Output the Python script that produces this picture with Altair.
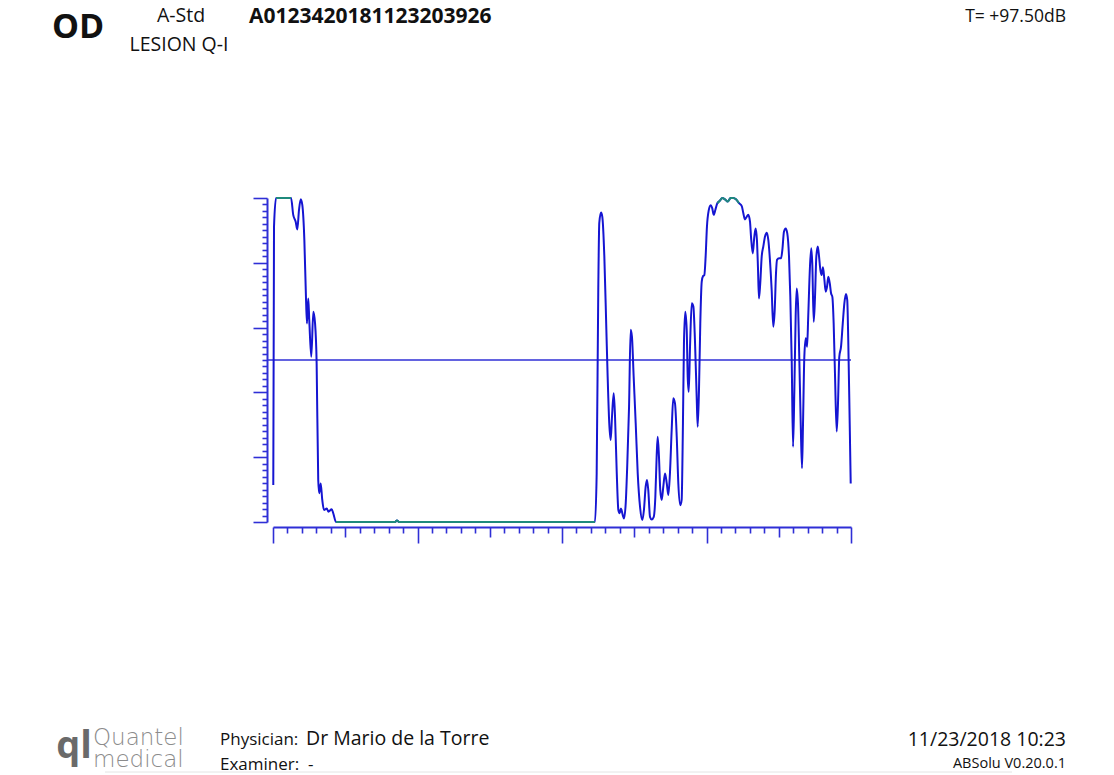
import altair as alt
import pandas as pd

# ---------------- data (A-scan echo amplitude vs depth) ----------------
depth_left = [0.02, 0.07, 0.21, 1.25, 1.40, 1.57, 1.68, 1.80, 1.92, 2.03, 2.17, 2.28, 2.35, 2.44,
              2.51, 2.65, 2.79, 2.91, 3.02, 3.13, 3.20, 3.30, 3.41, 3.53, 3.72, 3.83, 4.06, 4.17, 4.36]
amp_left = [11.4, 91.1, 100, 100, 94.8, 92.7, 90.3, 96.3, 99.6, 97.8, 87.0, 69.5, 61.3, 69.0,
            62.3, 51.0, 64.9, 61.3, 49.0, 13.0, 8.9, 11.9, 6.8, 3.7, 4.2, 3.2, 3.9, 2.7, 0]

depth_flat = [8.45, 8.58, 8.72, 22.28]
amp_flat = [0, 0.5, 0, 0]

depth_mid = [22.40, 22.51, 22.58, 22.70, 22.79, 22.93, 23.07, 23.16, 23.27, 23.37,
             23.46, 23.58, 23.67, 23.79, 23.90, 23.99, 24.08, 24.20, 24.29, 24.41,
             24.52, 24.64, 24.75, 24.84, 24.96, 25.10, 25.24, 25.40, 25.56, 25.67,
             25.79, 25.88, 25.97, 26.09, 26.21, 26.35, 26.46, 26.55, 26.62, 26.71,
             26.80, 26.90, 27.01, 27.13, 27.25, 27.36, 27.47, 27.59, 27.70, 27.82,
             27.94, 28.05, 28.19, 28.28, 28.37, 28.44, 28.53, 28.63, 28.70, 28.77,
             28.86, 28.98, 29.09, 29.20, 29.32, 29.39, 29.48, 29.57, 29.67, 29.76,
             29.85, 29.94, 30.03, 30.15, 30.29, 30.40, 30.50, 30.61, 30.75, 30.93]
amp_mid = [15.1, 71.6, 92.3, 95.5, 94.2, 81.9, 59.3, 44.8, 30.5, 25.3,
           32.5, 39.7, 32.5, 15.0, 3.7, 2.7, 4.2, 2.2, 1.1, 5.8,
           18.1, 35.6, 59.3, 57.2, 44.8, 30.5, 15.0, 4.7, 0.6, 3.7,
           10.9, 13.0, 9.9, 1.6, 0.8, 1.6, 7.8, 20.2, 26.3, 20.2,
           9.9, 6.8, 10.9, 15.0, 11.9, 8.3, 15.0, 28.4, 38.2, 36.6,
           26.3, 11.9, 5.2, 6.8, 30.5, 55.2, 64.9, 59.3, 44.8, 40.2,
           54.1, 67.5, 66.5, 56.2, 38.7, 29.4, 40.7, 61.3, 74.2, 75.9,
           76.2, 81.9, 91.1, 96.1, 97.8, 96.8, 94.8, 96.3, 98.4, 99.2]

depth_right = [31.09, 31.28, 31.47, 31.67, 31.86, 32.04, 32.25, 32.44, 32.55, 32.66,
               32.78, 32.89, 33.01, 33.08, 33.20, 33.31, 33.40, 33.49, 33.56, 33.63,
               33.72, 33.82, 33.93, 34.05, 34.17, 34.28, 34.39, 34.51, 34.62, 34.72,
               34.81, 34.88, 35.02, 35.16, 35.25, 35.36, 35.48, 35.59, 35.71, 35.80,
               35.90, 35.99, 36.08, 36.17, 36.24, 36.33, 36.42, 36.52, 36.61, 36.68,
               36.77, 36.87, 36.96, 37.04, 37.16, 37.25, 37.32, 37.42, 37.51, 37.60,
               37.70, 37.79, 37.88, 37.97, 38.06, 38.15, 38.25, 38.34, 38.43, 38.53,
               38.62, 38.71, 38.80, 38.89, 39.01, 39.10, 39.19, 39.31, 39.43, 39.54,
               39.65, 39.74, 39.81, 39.91, 39.98]
amp_right = [100, 99.6, 98.9, 100, 100, 99.6, 98.4, 97.5, 95.3, 93.4,
             94.2, 94.8, 92.7, 88.1, 82.9, 88.1, 90.6, 87.0, 78.8, 69.0,
             73.7, 81.9, 85.0, 88.1, 89.3, 87.0, 80.9, 71.6, 60.3, 65.4,
             76.8, 80.9, 81.4, 81.4, 84.0, 89.6, 90.6, 89.1, 81.9, 69.5,
             49.0, 23.2, 40.7, 63.4, 72.1, 67.5, 51.0, 30.5, 16.6, 30.5,
             51.0, 56.7, 54.1, 63.4, 78.8, 84.5, 79.8, 61.8, 69.5, 81.9,
             85.0, 81.9, 77.8, 76.2, 78.6, 75.2, 71.1, 72.6, 75.7, 73.7,
             70.6, 69.5, 61.3, 45.9, 27.9, 36.6, 51.0, 54.1, 61.3, 67.5,
             70.4, 68.5, 56.2, 30.5, 11.9]

baseline_amp = [50]
x_ticks = list(range(0, 41))
y_ticks = list(range(0, 101, 2))

# ---------------- assemble ----------------
depth = depth_left + depth_flat + depth_mid + depth_right
amp = amp_left + amp_flat + amp_mid + amp_right
trace = pd.DataFrame({"depth": depth, "amp": amp})

# saturated runs (top clip / bottom floor) drawn in green
sat = [(a >= 98 or a <= 0.5) for a in amp]
runs, cur = [], []
for i, s in enumerate(sat):
    if s:
        cur.append(i)
    else:
        if len(cur) >= 2:
            runs.append(cur)
        cur = []
if len(cur) >= 2:
    runs.append(cur)
sat_df = pd.DataFrame([{"depth": depth[i], "amp": amp[i], "seg": k}
                       for k, r in enumerate(runs) for i in r])

# ---------------- layout ----------------
W, H = 578, 324
OX, OY = 273, 198          # page position of plot origin
PAGE_W, PAGE_H = 1098, 767
AX = "#2f2fd6"
LINE = "#1515d2"
GREEN = "#1f8a7c"

x_axis = alt.Axis(values=x_ticks, labels=False, title=None, grid=False,
                  domainColor=AX, domainWidth=2, tickColor=AX, tickWidth=1.6,
                  tickSize={"condition": [{"test": "datum.value % 10 === 0", "value": 16},
                                          {"test": "datum.value % 5 === 0", "value": 10}],
                            "value": 6},
                  offset=5)
y_axis = alt.Axis(values=y_ticks, labels=False, title=None, grid=False,
                  domainColor=AX, domainWidth=2, tickColor=AX, tickWidth=1.6,
                  tickSize={"condition": {"test": "datum.value % 20 === 0", "value": 14},
                            "value": 5},
                  offset=6)

xenc = alt.X("depth:Q", scale=alt.Scale(domain=[0, 40], nice=False, zero=False), axis=x_axis)
yenc = alt.Y("amp:Q", scale=alt.Scale(domain=[0, 100], nice=False, zero=False), axis=y_axis)

line = alt.Chart(trace).mark_line(color=LINE, strokeWidth=2, interpolate="monotone").encode(
    x=xenc, y=yenc, order=alt.Order("depth:Q"))

green = alt.Chart(sat_df).mark_line(color=GREEN, strokeWidth=2, interpolate="monotone").encode(
    x=xenc, y=yenc, detail="seg:N", order=alt.Order("depth:Q"))

rule = alt.Chart(pd.DataFrame({"amp": baseline_amp})).mark_rule(color=AX, strokeWidth=1.6).encode(
    y=yenc, x=alt.value(-6), x2=alt.value(W))


def label(txt, px, py, size, weight="normal", align="left", color="#111111",
          font="Open Sans", baseline="alphabetic"):
    return alt.Chart(pd.DataFrame({"t": [txt]})).mark_text(
        align=align, baseline=baseline, fontSize=size, fontWeight=weight,
        color=color, font=font).encode(
        x=alt.value(px - OX), y=alt.value(py - OY), text="t:N")


texts = [
    label("OD", 78, 38, 34, "bold", "center"),
    label("A-Std", 181, 22, 19.5, align="center"),
    label("LESION Q-I", 179, 51, 19.5, align="center"),
    label("A0123420181123203926", 249, 23, 21, "bold"),
    label("T= +97.50dB", 1066, 22, 17.5, align="right"),
    label("ql", 74, 747, 38, "bold", "center", "#6a6a6a", baseline="middle"),
    label("Quantel", 93, 745, 23, 200, "left", "#8c8c8c", font="DejaVu Sans"),
    label("medical", 93, 767, 23, 200, "left", "#8c8c8c", font="DejaVu Sans"),
    label("Physician:", 220, 745, 17),
    label("Dr Mario de la Torre", 306, 745, 19.5),
    label("Examiner:", 220, 770, 17),
    label("-", 308, 770, 17),
    label("11/23/2018 10:23", 1066, 746, 19.5, align="right"),
    label("ABSolu V0.20.0.1", 1066, 768, 14.5, align="right"),
]

footer_line = alt.Chart(pd.DataFrame({"v": [0]})).mark_rule(color="#e4e4e4", strokeWidth=1).encode(
    x=alt.value(105 - OX), x2=alt.value(1012 - OX), y=alt.value(772 - OY))

chart = alt.layer(rule, line, green, footer_line, *texts).properties(
    width=W, height=H,
    autosize=alt.AutoSizeParams(type="none"),
    padding={"left": OX - 8, "top": OY - 8,
             "right": PAGE_W - (OX - 8) - W, "bottom": PAGE_H - (OY - 8) - H},
    background="white",
).configure_view(strokeWidth=0)

chart.save("out.html", embed_options={"renderer": "svg", "actions": False})
